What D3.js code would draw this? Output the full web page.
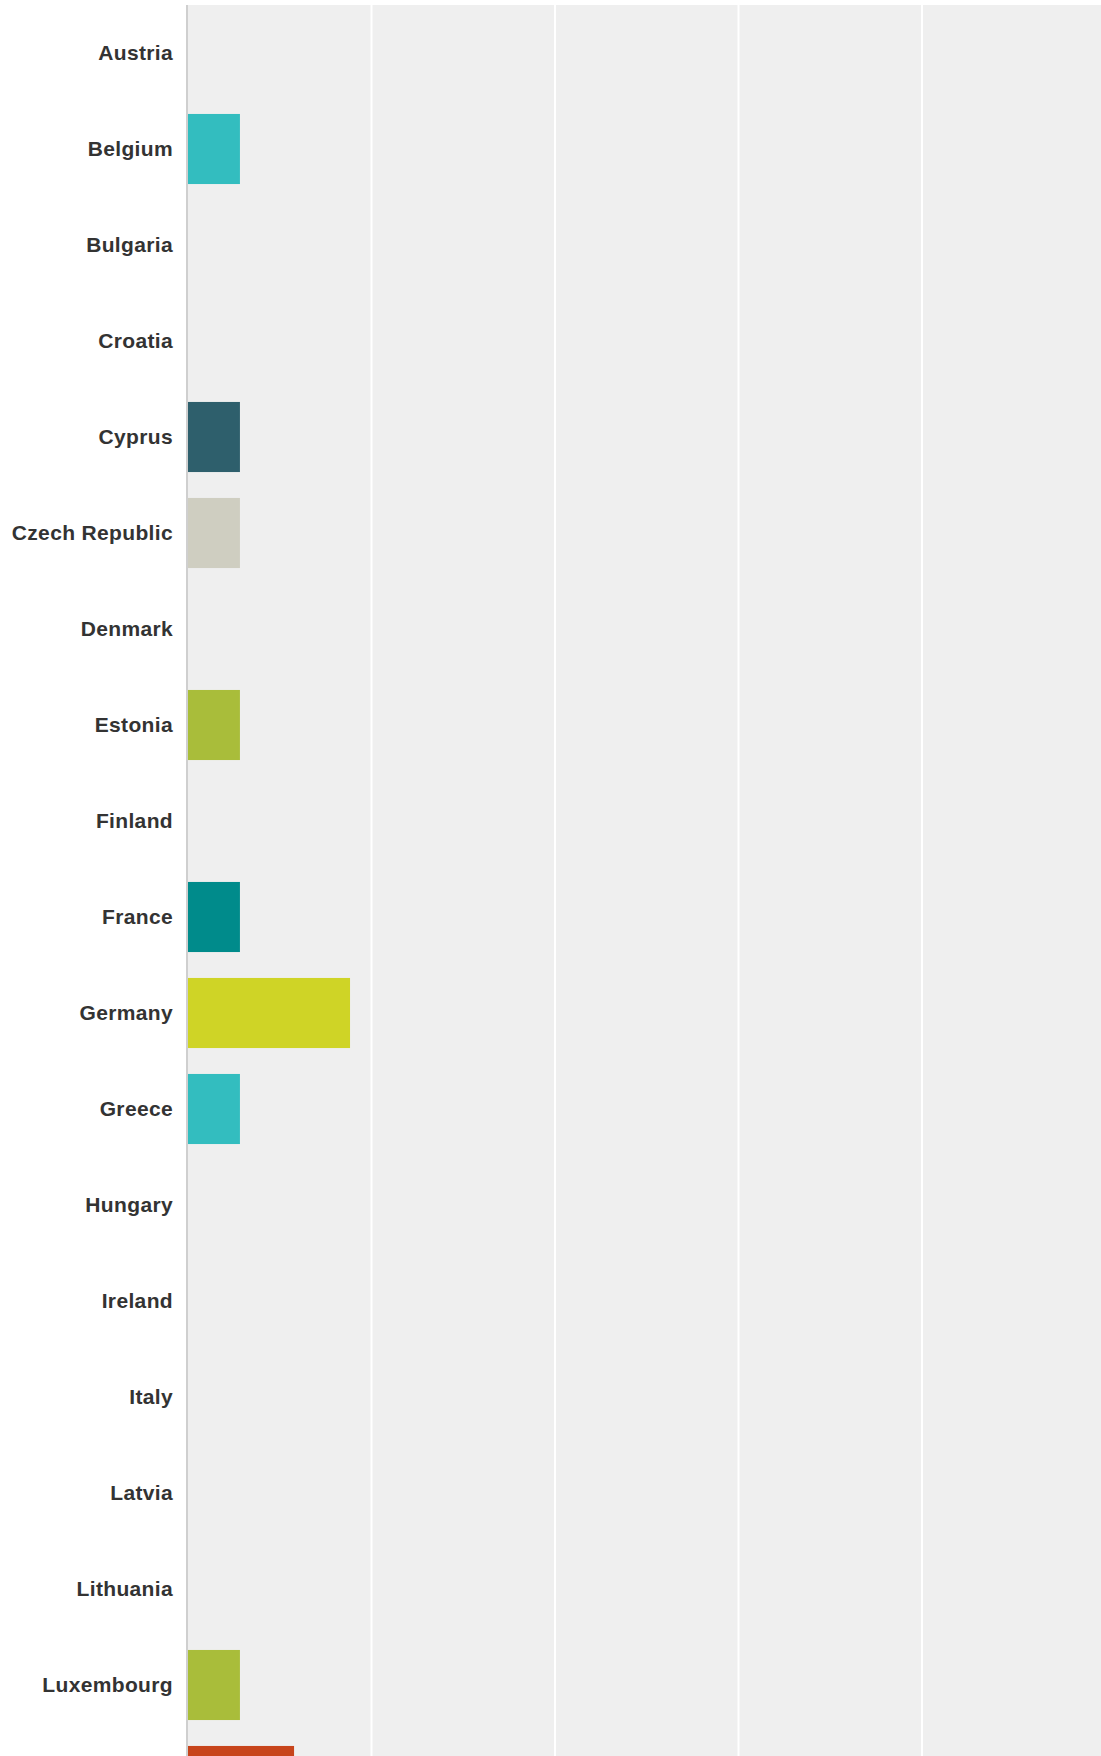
<!DOCTYPE html>
<html>
<head>
<meta charset="utf-8">
<script src="https://cdn.jsdelivr.net/npm/d3@7"></script>
<style>
  html, body { margin: 0; padding: 0; background: #fff; overflow: hidden; }
  svg { display: block; }
</style>
</head>
<body>
<div id="chart"></div>
<script>
// pays (ordre alphabétique, le graphique est coupé en bas)
const countries = ["Austria", "Belgium", "Bulgaria", "Croatia", "Cyprus", "Czech Republic",
  "Denmark", "Estonia", "Finland", "France", "Germany", "Greece", "Hungary", "Ireland",
  "Italy", "Latvia", "Lithuania", "Luxembourg", "Malta"];

// pourcentages
const values = [0, 2.83, 0, 0, 2.83, 2.83, 0, 2.83, 0, 2.83, 8.83, 2.83, 0, 0, 0, 0, 0, 2.83, 5.78];

const barColors = ["#33bdbf", "#33bdbf", "#33bdbf", "#33bdbf", "#2e5f6c", "#cfcec1",
  "#a9bd3a", "#a9bd3a", "#008b8b", "#008b8b", "#cfd426", "#33bdbf", "#33bdbf", "#33bdbf",
  "#33bdbf", "#33bdbf", "#33bdbf", "#a9bd3a", "#c7441b"];

const gridTicks = [10, 20, 30, 40];

let width = 1101;
let height = 1756;

let svg = d3.select("#chart")
  .append("svg")
  .attr("width", width)
  .attr("height", height);

let plotLeft = 188;
let plotTop = 5;
let step = 96;

let x = d3.scaleLinear()
  .domain([0, 50])
  .range([plotLeft, plotLeft + 917.5]);

let y = d3.scaleBand()
  .domain(countries)
  .range([plotTop, plotTop + step * countries.length])
  .paddingInner(0.27)
  .paddingOuter(0.135);

// fond gris de la zone de tracé
svg.append("rect")
  .attr("x", plotLeft)
  .attr("y", plotTop)
  .attr("width", width - plotLeft)
  .attr("height", height - plotTop)
  .style("fill", "#efefef");

// lignes de grille verticales
svg.selectAll(".grid")
  .data(gridTicks)
  .enter()
  .append("line")
  .attr("x1", d => x(d))
  .attr("x2", d => x(d))
  .attr("y1", plotTop)
  .attr("y2", height)
  .style("stroke", "#ffffff")
  .style("stroke-width", 2);

// barres
svg.selectAll(".bar")
  .data(countries)
  .enter()
  .append("rect")
  .attr("x", x(0))
  .attr("y", d => y(d))
  .attr("width", (d, i) => x(values[i]) - x(0))
  .attr("height", y.bandwidth())
  .style("fill", (d, i) => barColors[i]);

// axe vertical
svg.append("line")
  .attr("x1", plotLeft - 1)
  .attr("x2", plotLeft - 1)
  .attr("y1", plotTop)
  .attr("y2", height)
  .style("stroke", "#cfcfcf")
  .style("stroke-width", 2);

// étiquettes des pays (seulement celles qui tombent dans la fenêtre)
svg.selectAll(".label")
  .data(countries.filter(d => y(d) + y.bandwidth() / 2 < height - 10))
  .enter()
  .append("text")
  .attr("x", 173)
  .attr("y", d => y(d) + y.bandwidth() / 2)
  .attr("dy", "0.35em")
  .text(d => d)
  .style("fill", "#333333")
  .style("font-family", "'Liberation Sans', Arial, sans-serif")
  .style("font-weight", "bold")
  .style("font-size", "21px")
  .style("letter-spacing", "0.35px")
  .style("text-anchor", "end");
</script>
</body>
</html>
